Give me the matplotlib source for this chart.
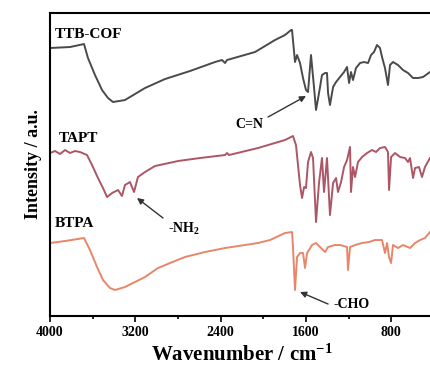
import matplotlib
matplotlib.use('Agg')
import matplotlib.pyplot as plt
from matplotlib.ticker import MultipleLocator

plt.rcParams['font.family'] = ['Liberation Serif', 'DejaVu Serif']
plt.rcParams['font.weight'] = 'bold'
plt.rcParams['mathtext.fontset'] = 'custom'
plt.rcParams['mathtext.rm'] = 'Liberation Serif:bold'
plt.rcParams['mathtext.bf'] = 'Liberation Serif:bold'
plt.rcParams['mathtext.it'] = 'Liberation Serif:bold'

# wavenumbers (cm-1) and intensities (a.u., offset)
cof_wn = [4000, 3812, 3681, 3644, 3578, 3512, 3456, 3409, 3297, 3109, 2921, 2687, 2452, 2387,
          2358, 2340, 2077, 1983, 1890, 1796, 1739, 1730, 1702, 1683, 1655, 1627, 1599, 1580,
          1552, 1524, 1505, 1467, 1449, 1420, 1402, 1392, 1374, 1345, 1317, 1280, 1242, 1214,
          1195, 1177, 1158, 1130, 1092, 1055, 1017, 989, 961, 933, 905, 886, 858, 830, 811,
          783, 736, 689, 642, 595, 548, 501, 436]
cof_int = [268, 269, 272, 258, 241, 226, 218, 214, 216, 228, 237, 245, 254, 256,
           253, 256, 264, 270, 276, 281, 286, 286, 254, 261, 253, 238, 226, 224,
           261, 229, 206, 229, 241, 243, 243, 223, 211, 229, 234, 239, 244, 249,
           233, 244, 236, 248, 253, 254, 253, 261, 264, 271, 268, 259, 248, 231, 251,
           254, 251, 246, 243, 238, 238, 239, 244]

tapt_wn = [4000, 3953, 3906, 3859, 3812, 3766, 3719, 3653, 3606, 3550, 3503, 3465, 3418, 3362,
           3325, 3297, 3250, 3212, 3175, 3109, 3015, 2799, 2593, 2358, 2340, 2321, 2049, 1796,
           1721, 1693, 1655, 1636, 1617, 1599, 1580, 1552, 1533, 1505, 1477, 1449, 1430, 1402,
           1374, 1345, 1317, 1299, 1270, 1242, 1214, 1186, 1177, 1158, 1139, 1111, 1073, 1026,
           980, 942, 905, 858, 830, 820, 801, 764, 717, 670, 642, 623, 595, 576, 539, 511,
           483, 436]
tapt_int = [163, 165, 162, 166, 163, 165, 164, 161, 151, 138, 128, 119, 123, 126,
            120, 131, 134, 124, 139, 144, 150, 155, 158, 161, 163, 161, 168, 176,
            180, 171, 131, 118, 129, 128, 154, 164, 158, 94, 133, 158, 124, 158,
            101, 133, 138, 124, 134, 149, 156, 169, 124, 149, 139, 154, 159, 163,
            166, 164, 168, 169, 164, 126, 159, 163, 159, 158, 154, 158, 138, 148, 149, 139,
            149, 158]

btpa_wn = [4000, 3859, 3681, 3625, 3559, 3503, 3437, 3390, 3297, 3203, 3109, 2987, 2874, 2734,
           2546, 2358, 2049, 1936, 1796, 1730, 1721, 1702, 1683, 1655, 1627, 1608, 1589, 1542,
           1505, 1467, 1420, 1392, 1327, 1280, 1214, 1205, 1186, 1139, 1073, 1008, 952, 886,
           858, 839, 820, 801, 783, 736, 689, 623, 576, 529, 483, 436]
btpa_int = [73, 75, 78, 66, 49, 36, 28, 26, 29, 34, 39, 48, 53, 59,
            64, 68, 73, 76, 83, 84, 69, 26, 59, 63, 63, 48, 63, 71,
            73, 69, 64, 69, 71, 71, 69, 46, 69, 71, 73, 74, 76, 76,
            63, 73, 59, 53, 71, 68, 71, 68, 73, 76, 78, 84]

names = ['TTB-COF', 'TAPT', 'BTPA']
colors = ['#4a4a4a', '#ac5666', '#e8866a']
x_ticks = [4000, 3200, 2400, 1600, 800]

fig = plt.figure(figsize=(4.3, 3.72), dpi=100)
ax = fig.add_axes([0.1163, 0.1505, 0.8926, 0.8145])

ax.plot(cof_wn, cof_int, color=colors[0], lw=1.4)
ax.plot(tapt_wn, tapt_int, color=colors[1], lw=1.4)
ax.plot(btpa_wn, btpa_int, color=colors[2], lw=1.4)

ax.set_xlim(4000, 400)
ax.set_ylim(0, 303)
ax.set_xticks(x_ticks)
ax.set_xticklabels([str(t) for t in x_ticks])
ax.xaxis.set_minor_locator(MultipleLocator(400))
ax.set_yticks([])
ax.tick_params(axis='x', which='major', direction='out', length=4, width=1.2,
               labelsize=10, pad=3)
ax.tick_params(axis='x', which='minor', direction='out', length=2.5, width=1.2)
for s in ['top', 'left', 'bottom', 'right']:
    ax.spines[s].set_linewidth(1.5)

ax.set_xlabel('Wavenumber / cm$^{-1}$', fontsize=15, fontweight='bold', labelpad=4)
ax.set_ylabel('Intensity / a.u.', fontsize=13, fontweight='bold', labelpad=6)

ax.text(3953, 282, names[0], fontsize=11, fontweight='bold', va='center', ha='left')
ax.text(3916, 178, names[1], fontsize=11, fontweight='bold', va='center', ha='left')
ax.text(3953, 93, names[2], fontsize=11, fontweight='bold', va='center', ha='left')

arrow = dict(arrowstyle='-|>', color='#333333', lw=1.0, mutation_scale=9,
             shrinkA=0, shrinkB=0)
ax.annotate('', xy=(1599, 220), xytext=(1955, 199), arrowprops=arrow)
ax.text(2133, 192, 'C=N', fontsize=10, fontweight='bold', ha='center', va='center')
ax.annotate('', xy=(3184, 118), xytext=(2940, 98), arrowprops=arrow)
ax.text(2743, 87, '-NH$_2$', fontsize=10, fontweight='bold', ha='center', va='center')
ax.annotate('', xy=(1655, 24), xytext=(1392, 12), arrowprops=arrow)
ax.text(1167, 12, '-CHO', fontsize=10, fontweight='bold', ha='center', va='center')

fig.savefig('out.png', dpi=100)
